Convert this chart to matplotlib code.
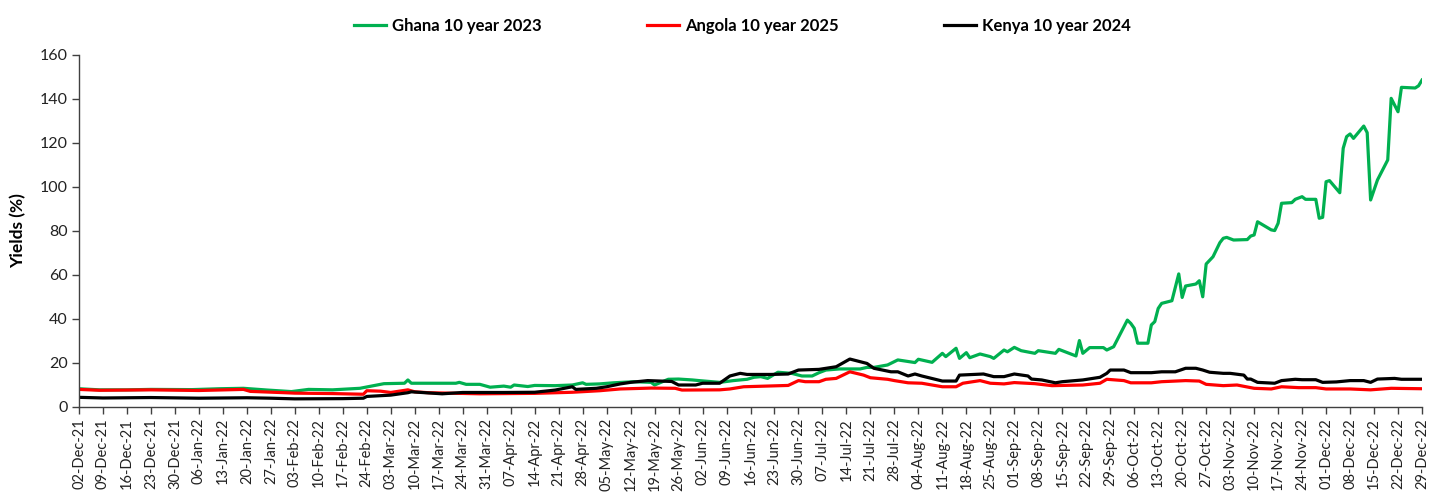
import matplotlib
matplotlib.use("Agg")
import matplotlib.pyplot as plt
import matplotlib.dates as mdates
import pandas as pd

plt.rcParams['font.family'] = ['Lato', 'DejaVu Sans']

# ---------------- data ----------------
ghana_dates = [
    "2021-12-02", "2021-12-08", "2021-12-16", "2021-12-23", "2022-01-04", "2022-01-12",
    "2022-01-19", "2022-01-26", "2022-02-02", "2022-02-07", "2022-02-14", "2022-02-22",
    "2022-02-24", "2022-03-01", "2022-03-07", "2022-03-08", "2022-03-09", "2022-03-22",
    "2022-03-23", "2022-03-25", "2022-03-29", "2022-04-01", "2022-04-05", "2022-04-07",
    "2022-04-08", "2022-04-12", "2022-04-14", "2022-04-20", "2022-04-25", "2022-04-28",
    "2022-04-29", "2022-05-03", "2022-05-07", "2022-05-13", "2022-05-18", "2022-05-19",
    "2022-05-23", "2022-05-26", "2022-05-30", "2022-06-01", "2022-06-07", "2022-06-11",
    "2022-06-15", "2022-06-17", "2022-06-19", "2022-06-21", "2022-06-24", "2022-06-28",
    "2022-07-01", "2022-07-04", "2022-07-06", "2022-07-08", "2022-07-12", "2022-07-18",
    "2022-07-20", "2022-07-22", "2022-07-26", "2022-07-29", "2022-08-03", "2022-08-04",
    "2022-08-08", "2022-08-11", "2022-08-12", "2022-08-15", "2022-08-16", "2022-08-18",
    "2022-08-19", "2022-08-22", "2022-08-25", "2022-08-26", "2022-08-29", "2022-08-30",
    "2022-09-01", "2022-09-03", "2022-09-07", "2022-09-08", "2022-09-13", "2022-09-14",
    "2022-09-19", "2022-09-20", "2022-09-21", "2022-09-23", "2022-09-27", "2022-09-28",
    "2022-09-30", "2022-10-04", "2022-10-05", "2022-10-06", "2022-10-07", "2022-10-10",
    "2022-10-11", "2022-10-12", "2022-10-13", "2022-10-14", "2022-10-17", "2022-10-19",
    "2022-10-20", "2022-10-21", "2022-10-24", "2022-10-25", "2022-10-26", "2022-10-27",
    "2022-10-29", "2022-10-31", "2022-11-01", "2022-11-02", "2022-11-04", "2022-11-08",
    "2022-11-09", "2022-11-10", "2022-11-11", "2022-11-15", "2022-11-16", "2022-11-17",
    "2022-11-18", "2022-11-21", "2022-11-22", "2022-11-24", "2022-11-25", "2022-11-28",
    "2022-11-29", "2022-11-30", "2022-12-01", "2022-12-02", "2022-12-05", "2022-12-06",
    "2022-12-07", "2022-12-08", "2022-12-09", "2022-12-12", "2022-12-13", "2022-12-14",
    "2022-12-16", "2022-12-19", "2022-12-20", "2022-12-22", "2022-12-23", "2022-12-27",
    "2022-12-28", "2022-12-29",
]
ghana_yields = [
    8.3, 7.8, 7.8, 8.0, 7.9, 8.3,
    8.5, 7.7, 7.0, 8.0, 7.8, 8.5,
    9.1, 10.6, 10.8, 12.3, 10.8, 10.8,
    11.2, 10.3, 10.3, 9.0, 9.5, 9.0,
    10.0, 9.3, 9.8, 9.7, 10.0, 11.0,
    10.3, 10.5, 11.0, 11.5, 11.2, 10.0,
    12.6, 12.7, 12.3, 12.0, 11.2, 12.0,
    12.6, 13.5, 13.8, 13.0, 15.8, 15.3,
    14.1, 14.1, 15.6, 16.8, 17.3, 17.3,
    18.0, 18.0, 19.1, 21.4, 20.2, 21.7,
    20.3, 24.4, 22.9, 26.7, 22.1, 24.7,
    22.4, 24.1, 22.9, 22.1, 25.9, 25.1,
    27.1, 25.6, 24.4, 25.6, 24.4, 26.2,
    23.2, 30.2, 24.4, 27.0, 27.0, 25.9,
    27.4, 39.5, 38.0, 35.8, 29.0, 29.0,
    37.3, 38.8, 44.8, 47.1, 48.3, 60.5,
    49.8, 55.0, 55.9, 57.4, 50.1, 65.0,
    68.3, 74.7, 76.7, 77.1, 75.9, 76.1,
    77.7, 78.2, 84.2, 80.5, 80.2, 83.5,
    92.6, 92.9, 94.4, 95.6, 94.4, 94.4,
    85.8, 86.2, 102.4, 102.9, 97.4, 117.6,
    122.9, 124.1, 122.1, 127.7, 124.7, 94.1,
    103.2, 112.3, 140.3, 134.2, 145.3, 145.0,
    146.0, 148.6,
]

angola_dates = [
    "2021-12-02", "2021-12-08", "2021-12-16", "2021-12-23", "2022-01-06", "2022-01-19",
    "2022-01-21", "2022-01-31", "2022-02-03", "2022-02-14", "2022-02-23", "2022-02-24",
    "2022-02-28", "2022-03-03", "2022-03-08", "2022-03-10", "2022-03-14", "2022-03-29",
    "2022-04-14", "2022-04-25", "2022-05-03", "2022-05-09", "2022-05-18", "2022-05-25",
    "2022-05-27", "2022-06-07", "2022-06-10", "2022-06-14", "2022-06-27", "2022-06-30",
    "2022-07-02", "2022-07-06", "2022-07-08", "2022-07-11", "2022-07-15", "2022-07-19",
    "2022-07-21", "2022-07-26", "2022-07-28", "2022-08-01", "2022-08-05", "2022-08-11",
    "2022-08-15", "2022-08-17", "2022-08-22", "2022-08-25", "2022-08-29", "2022-09-01",
    "2022-09-07", "2022-09-12", "2022-09-21", "2022-09-26", "2022-09-28", "2022-10-03",
    "2022-10-05", "2022-10-11", "2022-10-14", "2022-10-21", "2022-10-25", "2022-10-27",
    "2022-11-01", "2022-11-05", "2022-11-10", "2022-11-15", "2022-11-18", "2022-11-23",
    "2022-11-28", "2022-12-01", "2022-12-08", "2022-12-14", "2022-12-20", "2022-12-29",
]
angola_yields = [
    8.0, 7.6, 7.7, 7.8, 7.5, 8.0,
    7.1, 6.5, 6.3, 6.1, 5.8, 7.4,
    7.2, 6.6, 7.8, 6.9, 6.5, 6.0,
    6.2, 6.7, 7.4, 8.2, 8.6, 8.5,
    7.7, 7.8, 8.2, 9.2, 9.8, 12.0,
    11.5, 11.5, 12.6, 13.0, 16.0, 14.5,
    13.3, 12.6, 12.0, 11.0, 10.8, 9.2,
    9.2, 10.8, 12.0, 10.8, 10.5, 11.1,
    10.6, 9.7, 10.0, 10.8, 12.6, 12.0,
    11.0, 11.0, 11.5, 12.0, 11.8, 10.3,
    9.7, 10.0, 8.5, 8.2, 9.2, 8.8,
    8.8, 8.2, 8.2, 7.8, 8.5, 8.3,
]

kenya_dates = [
    "2021-12-02", "2021-12-09", "2021-12-23", "2022-01-06", "2022-01-20", "2022-01-27",
    "2022-02-03", "2022-02-17", "2022-02-23", "2022-02-24", "2022-03-03", "2022-03-08",
    "2022-03-09", "2022-03-14", "2022-03-18", "2022-03-24", "2022-04-05", "2022-04-14",
    "2022-04-20", "2022-04-25", "2022-04-26", "2022-05-02", "2022-05-05", "2022-05-09",
    "2022-05-12", "2022-05-17", "2022-05-24", "2022-05-26", "2022-05-31", "2022-06-02",
    "2022-06-07", "2022-06-09", "2022-06-10", "2022-06-13", "2022-06-15", "2022-06-22",
    "2022-06-27", "2022-06-30", "2022-07-06", "2022-07-11", "2022-07-15", "2022-07-18",
    "2022-07-20", "2022-07-22", "2022-07-27", "2022-07-29", "2022-08-01", "2022-08-03",
    "2022-08-05", "2022-08-11", "2022-08-15", "2022-08-16", "2022-08-23", "2022-08-26",
    "2022-08-29", "2022-09-01", "2022-09-05", "2022-09-06", "2022-09-09", "2022-09-13",
    "2022-09-15", "2022-09-21", "2022-09-26", "2022-09-28", "2022-09-29", "2022-10-03",
    "2022-10-05", "2022-10-11", "2022-10-14", "2022-10-18", "2022-10-21", "2022-10-24",
    "2022-10-26", "2022-10-28", "2022-11-01", "2022-11-03", "2022-11-07", "2022-11-08",
    "2022-11-09", "2022-11-11", "2022-11-16", "2022-11-18", "2022-11-22", "2022-11-24",
    "2022-11-28", "2022-11-30", "2022-12-04", "2022-12-08", "2022-12-12", "2022-12-14",
    "2022-12-16", "2022-12-21", "2022-12-23", "2022-12-29",
]
kenya_yields = [
    4.4, 4.1, 4.3, 4.0, 4.2, 4.0,
    3.7, 3.8, 4.0, 4.8, 5.4, 6.5,
    6.9, 6.4, 6.0, 6.6, 6.6, 6.7,
    7.7, 9.2, 8.0, 8.5, 9.2, 10.5,
    11.2, 12.0, 11.6, 10.0, 10.0, 10.8,
    10.8, 13.0, 14.1, 15.3, 14.8, 14.8,
    15.0, 16.8, 17.1, 18.3, 21.8, 20.6,
    19.8, 17.6, 16.0, 16.0, 14.1, 15.0,
    14.1, 11.8, 11.8, 14.5, 15.0, 13.8,
    13.8, 15.0, 14.1, 12.7, 12.3, 11.0,
    11.5, 12.3, 13.5, 15.3, 16.8, 16.8,
    15.6, 15.6, 16.0, 16.0, 17.6, 17.6,
    16.8, 15.8, 15.3, 15.3, 14.5, 12.7,
    12.7, 11.2, 10.8, 12.0, 12.6, 12.4,
    12.4, 11.2, 11.4, 12.0, 12.0, 11.2,
    12.7, 13.0, 12.6, 12.6,
]

series_labels = ["Ghana 10 year 2023", "Angola 10 year 2025", "Kenya 10 year 2024"]
series_colors = ["#00B050", "#FF0000", "#000000"]
tick_start, tick_end = "2021-12-02", "2022-12-29"
y_ticks = [0, 20, 40, 60, 80, 100, 120, 140, 160]

# ---------------- plot ----------------
fig = plt.figure(figsize=(14.31, 4.94), dpi=100)
ax = fig.add_axes([79 / 1431, 1 - 407 / 494, (1422 - 79) / 1431, (407 - 55) / 494])

series = [
    (ghana_dates, ghana_yields),
    (angola_dates, angola_yields),
    (kenya_dates, kenya_yields),
]
handles = []
for (d, v), lab, col in zip(series, series_labels, series_colors):
    h, = ax.plot(pd.to_datetime(d), v, color=col, lw=2.3, label=lab,
                 solid_joinstyle='round')
    handles.append(h)

ax.set_xlim(pd.Timestamp(tick_start), pd.Timestamp(tick_end))
ax.set_ylim(0, 160)
ax.set_yticks(y_ticks)
ax.set_xticks(pd.date_range(tick_start, tick_end, freq="7D"))
ax.xaxis.set_major_formatter(mdates.DateFormatter("%d-%b-%y"))

for s in ["top", "right"]:
    ax.spines[s].set_visible(False)
for s in ["left", "bottom"]:
    ax.spines[s].set_color("#404040")
    ax.spines[s].set_linewidth(1.0)

ax.tick_params(axis="y", direction="out", length=5, width=1, color="#404040",
               labelsize=11.5, labelcolor="#222222", pad=3)
ax.tick_params(axis="x", direction="out", length=5, width=1, color="#404040",
               labelsize=10.5, labelcolor="#222222", pad=3, labelrotation=90)

ax.set_ylabel("Yields (%)", fontsize=12.5, fontweight="bold", labelpad=10)

fig.legend(handles=handles, loc="center", bbox_to_anchor=(0.519, 0.948), ncol=3,
           frameon=False, prop={"weight": "bold", "size": 12},
           handlelength=1.9, handletextpad=0.4, columnspacing=6.3)

fig.savefig("out.png", dpi=100)
